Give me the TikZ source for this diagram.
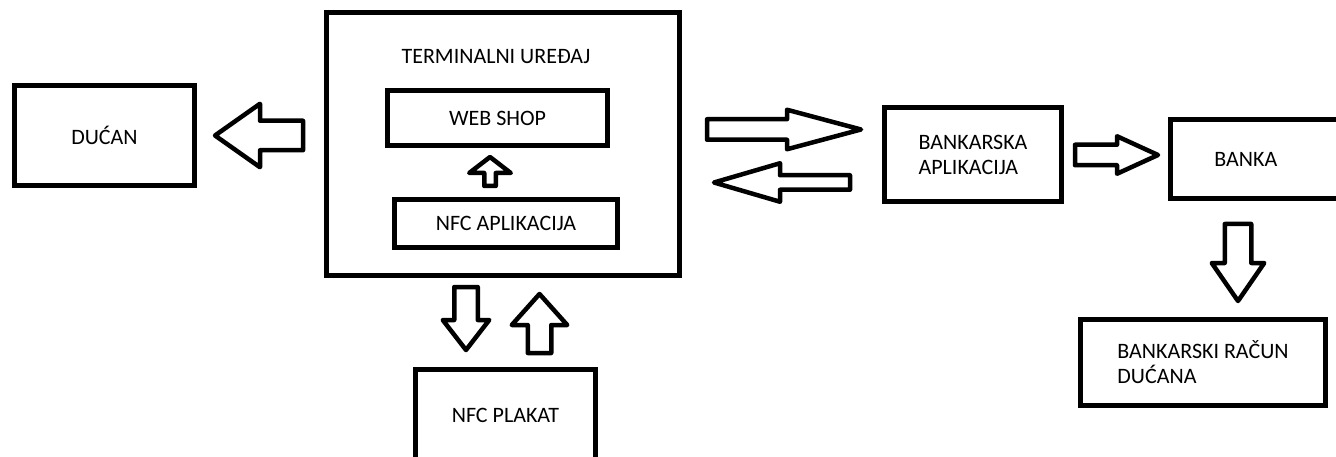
\documentclass[tikz,border=0pt]{standalone}
\usepackage{fontspec}
\setmainfont{Carlito}
\usetikzlibrary{calc,positioning}
\tikzset{
    block/.style = {draw, rectangle, line width=5pt, align=center},
    lblock/.style = {block, align=left},
    fat/.style = {draw, line width=4.5pt, line join=round, fill=white}
}
\newcommand{\blockarrow}[5]{%
  \path[fat] let \p1=#1, \p2=#2, \n1={atan2(\y2-\y1,\x2-\x1)}, \n2={veclen(\x2-\x1,\y2-\y1)} in
    [shift={(\p1)}, rotate=\n1]
    (0,#3) -- ({\n2-#5},#3) -- ({\n2-#5},#4) -- (\n2,0) -- ({\n2-#5},-#4) -- ({\n2-#5},-#3) -- (0,-#3) -- cycle;}

\begin{document}
\begin{tikzpicture}[x=1pt, y=-1pt, font=\fontsize{22}{25}\selectfont]
    \path[use as bounding box, clip] (0,0) rectangle (1336,457);
    \fill[white] (0,0) rectangle (1336,457);
    \node [block, minimum width=180pt, minimum height=100pt] (ducan) at (104.5,135.5) {DUĆAN};
    \node [block, minimum width=353pt, minimum height=263pt] (term) at (503,144) {};
    \node (termlbl) at (496,57) {TERMINALNI UREĐAJ};
    \node [block, minimum width=220pt, minimum height=55pt] (web) at (497.5,118) {WEB SHOP};
    \node [block, minimum width=223pt, minimum height=48pt] (nfcapp) at (506,223.5) {NFC APLIKACIJA};
    \node [lblock, minimum width=177pt, minimum height=94pt] (bapp) at (973,154.5) {BANKARSKA\\APLIKACIJA};
    \node [block, minimum width=174.5pt, minimum height=79pt] (banka) at (1257.75,159) {BANKA\hspace*{24pt}};
    \node [lblock, minimum width=245pt, minimum height=86pt] (racun) at (1203,362.5) {BANKARSKI RAČUN\\DUĆANA};
    \node [block, minimum width=180pt, minimum height=92.5pt] (plakat) at (505.5,415.75) {NFC PLAKAT};
    \blockarrow{($(term.west |- ducan.east)+(-21,0)$)}{($(ducan.east)+(18,0)$)}{14.75}{31.75}{45}
    \blockarrow{($(nfcapp.north)+(-16,-11)$)}{($(web.south)+(-7.5,9)$)}{5.75}{20.75}{16}
    \blockarrow{($(term.east)+(25,-14.5)$)}{($(bapp.west)+(-21,-25)$)}{10.25}{19.75}{74}
    \blockarrow{($(bapp.west)+(-32,28)$)}{($(term.east)+(32,38.5)$)}{7.25}{19.25}{66}
    \blockarrow{($(bapp.east)+(11,0.5)$)}{($(banka.west)+(-10,-4)$)}{10.25}{18.75}{41}
    \blockarrow{($(banka.south)+(-19.75,23)$)}{($(racun.north)+(35,-16)$)}{13.25}{26.25}{38}
    \blockarrow{($(term.south)+(-37,9)$)}{($(plakat.north)+(-39.5,-17)$)}{11.75}{23.25}{30}
    \blockarrow{($(plakat.north)+(34,-14)$)}{($(term.south)+(36.5,16)$)}{11.75}{27.75}{31}
\end{tikzpicture}
\end{document}
